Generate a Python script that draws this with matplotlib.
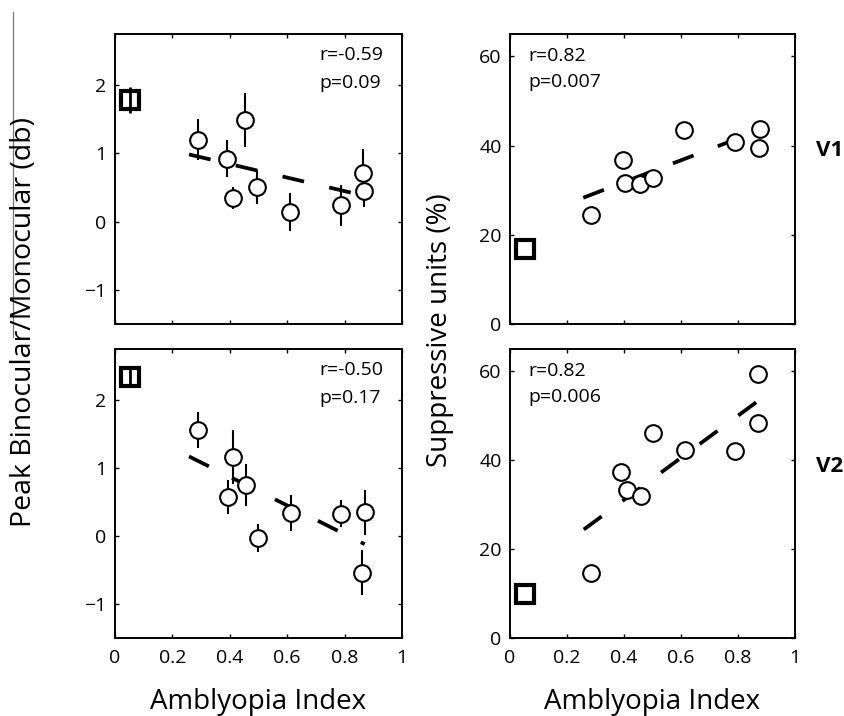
import matplotlib
matplotlib.use('Agg')
import matplotlib.pyplot as plt
from matplotlib.lines import Line2D

plt.rcParams['font.family'] = ['Open Sans', 'DejaVu Sans']

# ---------------- data ----------------
# V1: peak binocular/monocular ratio (db)
v1_ratio_x = [0.288, 0.391, 0.411, 0.454, 0.496, 0.610, 0.786, 0.863, 0.868]
v1_ratio_y = [1.20, 0.92, 0.35, 1.49, 0.51, 0.14, 0.24, 0.72, 0.45]
v1_ratio_err = [0.30, 0.27, 0.16, 0.40, 0.25, 0.28, 0.30, 0.35, 0.23]
v1_ratio_ctrl = [0.053, 1.78, 0.19]          # x, y, err
v1_ratio_fit_x = [0.258, 0.868]
v1_ratio_fit_y = [0.985, 0.38]
v1_ratio_stats = ["r=-0.59", "p=0.09"]

# V2: peak binocular/monocular ratio (db)
v2_ratio_x = [0.288, 0.395, 0.411, 0.458, 0.499, 0.614, 0.786, 0.872, 0.861]
v2_ratio_y = [1.56, 0.57, 1.16, 0.75, -0.03, 0.34, 0.33, 0.35, -0.54]
v2_ratio_err = [0.27, 0.25, 0.40, 0.31, 0.20, 0.27, 0.20, 0.33, 0.33]
v2_ratio_ctrl = [0.053, 2.34, 0.12]
v2_ratio_fit_x = [0.258, 0.870]
v2_ratio_fit_y = [1.17, -0.12]
v2_ratio_stats = ["r=-0.50", "p=0.17"]

# V1: suppressive units (%)
v1_supp_x = [0.283, 0.395, 0.403, 0.456, 0.500, 0.612, 0.789, 0.878, 0.872]
v1_supp_y = [24.5, 36.7, 31.7, 31.3, 32.8, 43.4, 40.8, 43.8, 39.5]
v1_supp_ctrl = [0.053, 16.8]
v1_supp_fit_x = [0.257, 0.870]
v1_supp_fit_y = [28.3, 43.3]
v1_supp_stats = ["r=0.82", "p=0.007"]

# V2: suppressive units (%)
v2_supp_x = [0.285, 0.391, 0.410, 0.458, 0.500, 0.615, 0.789, 0.869, 0.869]
v2_supp_y = [14.6, 37.3, 33.2, 31.9, 46.1, 42.3, 42.0, 59.3, 48.3]
v2_supp_ctrl = [0.053, 9.9]
v2_supp_fit_x = [0.259, 0.872]
v2_supp_fit_y = [24.4, 53.4]
v2_supp_stats = ["r=0.82", "p=0.006"]

x_ticks = [0, 0.2, 0.4, 0.6, 0.8, 1]
x_tick_labels = ["0", "0.2", "0.4", "0.6", "0.8", "1"]
ratio_ticks = [-1, 0, 1, 2]
ratio_tick_labels = ["\u22121", "0", "1", "2"]
supp_ticks = [0, 20, 40, 60]
supp_tick_labels = ["0", "20", "40", "60"]

# ---------------- figure ----------------
W, H = 844, 716
fig = plt.figure(figsize=(W / 100, H / 100), dpi=100)

def box(l, t, r, b):
    return [l / W, 1 - b / H, (r - l) / W, (b - t) / H]

ax_tl = fig.add_axes(box(115, 34, 402, 324))
ax_bl = fig.add_axes(box(115, 349, 402, 638))
ax_tr = fig.add_axes(box(510, 34, 795, 324))
ax_br = fig.add_axes(box(510, 349, 795, 638))

TICK_FS = 14
ANN_FS = 14
DASH = (0, (5.9, 6.9))

def style(ax, yticks, ylabels, ylim, show_x):
    ax.set_xlim(0, 1)
    ax.set_ylim(*ylim)
    ax.set_xticks(x_ticks)
    ax.set_xticklabels(x_tick_labels if show_x else [])
    ax.set_yticks(yticks)
    ax.set_yticklabels(ylabels)
    ax.tick_params(direction='in', length=3, width=1, top=True, right=True,
                   labelsize=TICK_FS, pad=6)
    ax.tick_params(axis='x', pad=8)
    for s in ax.spines.values():
        s.set_linewidth(1.4)

def draw_ratio(ax, x, y, err, ctrl, fx, fy, stats, show_x):
    ax.errorbar(x, y, yerr=err, fmt='none', ecolor='black', elinewidth=1.5,
                capsize=0, zorder=2)
    ax.plot(fx, fy, color='black', lw=2.7, linestyle=DASH, zorder=3)
    ax.plot(x, y, 'o', ms=12, mfc='white', mec='black', mew=1.5, zorder=4)
    ax.plot([ctrl[0]], [ctrl[1]], 's', ms=13, mfc='white', mec='black',
            mew=3, zorder=4)
    ax.errorbar([ctrl[0]], [ctrl[1]], yerr=[ctrl[2]], fmt='none',
                ecolor='black', elinewidth=2, capsize=0, zorder=5)
    ax.text(0.712, 2.44, stats[0], fontsize=ANN_FS, va='center', ha='left')
    ax.text(0.712, 2.03, stats[1], fontsize=ANN_FS, va='center', ha='left')
    style(ax, ratio_ticks, ratio_tick_labels, (-1.5, 2.75), show_x)

def draw_supp(ax, x, y, ctrl, fx, fy, stats, show_x):
    ax.plot(fx, fy, color='black', lw=2.7, linestyle=DASH, zorder=3)
    ax.plot(x, y, 'o', ms=12, mfc='white', mec='black', mew=1.5, zorder=4)
    ax.plot([ctrl[0]], [ctrl[1]], 's', ms=13, mfc='white', mec='black',
            mew=3, zorder=4)
    ax.text(0.066, 60.1, stats[0], fontsize=ANN_FS, va='center', ha='left')
    ax.text(0.066, 54.2, stats[1], fontsize=ANN_FS, va='center', ha='left')
    style(ax, supp_ticks, supp_tick_labels, (0, 65), show_x)

draw_ratio(ax_tl, v1_ratio_x, v1_ratio_y, v1_ratio_err, v1_ratio_ctrl,
           v1_ratio_fit_x, v1_ratio_fit_y, v1_ratio_stats, False)
draw_ratio(ax_bl, v2_ratio_x, v2_ratio_y, v2_ratio_err, v2_ratio_ctrl,
           v2_ratio_fit_x, v2_ratio_fit_y, v2_ratio_stats, True)
draw_supp(ax_tr, v1_supp_x, v1_supp_y, v1_supp_ctrl,
          v1_supp_fit_x, v1_supp_fit_y, v1_supp_stats, False)
draw_supp(ax_br, v2_supp_x, v2_supp_y, v2_supp_ctrl,
          v2_supp_fit_x, v2_supp_fit_y, v2_supp_stats, True)

# axis labels
fig.text(258 / W, 1 - 702 / H, "Amblyopia Index", ha='center', va='center',
         fontsize=20)
fig.text(652 / W, 1 - 702 / H, "Amblyopia Index", ha='center', va='center',
         fontsize=20)
fig.text(24 / W, 1 - 322 / H, "Peak Binocular/Monocular (db)", rotation=90,
         ha='center', va='center', fontsize=20.5)
fig.text(440 / W, 1 - 330 / H, "Suppressive units (%)", rotation=90,
         ha='center', va='center', fontsize=20)
fig.text(843 / W, 1 - 150 / H, "V1", ha='right', va='center',
         fontsize=16, fontweight='bold')
fig.text(843 / W, 1 - 467 / H, "V2", ha='right', va='center',
         fontsize=16, fontweight='bold')

# thin grey scan line at the left edge
fig.add_artist(Line2D([12.7 / W, 12.7 / W], [1 - 12 / H, 1 - 337 / H],
                      transform=fig.transFigure, color='#777777', lw=0.9))

fig.savefig("out.png", dpi=100)
